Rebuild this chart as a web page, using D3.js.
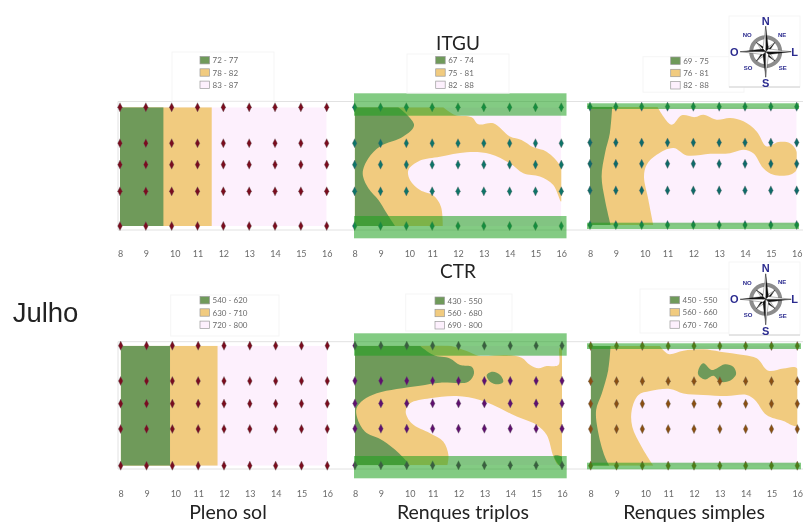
<!DOCTYPE html>
<html>
<head>
<meta charset="utf-8">
<script src="https://cdn.jsdelivr.net/npm/d3@7"></script>
<style>
  html, body { margin: 0; padding: 0; background: #fff; }
  svg { display: block; filter: blur(0.55px); }
</style>
</head>
<body>
<div id="container"></div>
<script>
/* DATA */
// hours of the day, and the position of the sensor rows across the plot (0 = north edge, 100 = south edge)
const hours = [8, 9, 10, 11, 12, 13, 14, 15, 16];
const rowsItgu = [0, 30.3, 48.3, 70.8, 100];
const rowsCtr = [0, 29.4, 48.3, 69.4, 100];

const legendItguSol = ["72 - 77", "78 - 82", "83 - 87"];
const legendItguTriplos = ["67 - 74", "75 - 81", "82 - 88"];
const legendItguSimples = ["69 - 75", "76 - 81", "82 - 88"];
const legendCtrSol = ["540 - 620", "630 - 710", "720 - 800"];
const legendCtrTriplos = ["430 - 550", "560 - 680", "690 - 800"];
const legendCtrSimples = ["450 - 550", "560 - 660", "670 - 760"];

// contour edges as [hour, position]
const itguSolGreen = [[9.68, 0], [9.68, 100]];
const itguSolOrange = [[11.55, 0], [11.55, 100]];
const ctrSolGreen = [[9.91, 0], [9.91, 100]];
const ctrSolOrange = [[11.75, 0], [11.75, 100]];

const itguTriplosOrange = [[11.43, 0], [11.88, 6.5], [12.53, 8.4], [12.79, 14.3], [13.37, 13.5], [14.01, 24.7], [14.46, 27.5],
  [14.92, 33.7], [15.43, 37.4], [16, 51.4], [16, 79.5], [15.69, 65.4], [15.17, 58.4], [14.53, 55.6], [14.01, 47.2], [13.24, 39.3],
  [12.34, 37.9], [11.3, 41.6], [10.53, 44.9], [10.08, 52.8], [10.14, 61.2], [10.53, 69.7], [11.05, 74.4], [11.34, 83.7], [11.41, 100]];
const itguTriplosGreen = [[9.69, 0], [10.3, 14.9], [9.88, 24.7], [8.98, 33.1], [8.53, 43], [8.31, 55.6], [8.53, 68.3], [8.92, 78.1],
  [9.24, 89.3], [9.56, 100]];

const itguSimplesOrange = [[10.61, 0], [11.16, 15.3], [11.55, 7.3], [12.06, 8.8], [12.39, 6.8], [12.9, 11], [13.42, 9.6], [13.94, 12.4],
  [14.45, 20.9], [14.84, 33.6], [15.29, 29.9], [15.74, 30.8], [16, 37.9], [16, 53.4], [15.74, 57.6], [15.1, 57.6], [14.71, 52],
  [14.32, 39.3], [13.94, 36.4], [13.42, 39.3], [12.65, 39.8], [11.74, 41.2], [11.23, 35], [10.58, 40.7], [10.19, 49.2], [10.09, 59],
  [10.26, 78.8], [10.45, 100]];
const itguSimplesGreen = [[8.86, 0], [8.77, 22.3], [8.58, 39.3], [8.45, 59], [8.58, 78.8], [8.8, 100]];

const ctrTriplosOrange = [[10.51, 0], [11.67, 0], [12.32, 4.5], [12.77, 8.4], [13.86, 7.8], [14.44, 10], [14.77, 16.2], [15.09, 18.9],
  [15.41, 17], [15.86, 16.2], [15.9, 2.2], [16, 0], [16, 100], [15.86, 100], [15.67, 92.8], [15.41, 74.7], [15.02, 66.3], [14.25, 59.3],
  [13.48, 51], [12.83, 45.4], [11.93, 42.1], [10.9, 44], [10.13, 48.2], [9.96, 55.2], [10.19, 64.9], [10.9, 73.3], [11.41, 80.2],
  [11.61, 91.4], [11.57, 100]];
const ctrTriplosGreen = [[10.51, 0], [11.03, 7.8], [11.67, 10.6], [12.06, 16.2], [12.51, 17.5], [12.6, 23.1], [12.38, 30.1], [11.29, 30.9],
  [10.51, 33.4], [9.61, 36.2], [8.84, 39.8], [8.32, 45.4], [8.06, 52.4], [8.09, 60.7], [8.39, 71.9], [8.97, 78], [9.48, 85.8], [10, 96.9],
  [10.06, 100]];
const ctrTriplosIsland = [[13.09, 24.5], [13.32, 21.7], [13.61, 24.5], [13.73, 30.1], [13.54, 32.3], [13.22, 30.1]];
const ctrTriplosTail = [[15.7, 92], [16, 93], [16, 100], [15.9, 100]];

const ctrSimplesOrange = [[10.68, 0], [11.01, 6.7], [11.59, 3.9], [12.36, 2.8], [13.01, 4.7], [13.91, 7.5], [14.43, 10.3], [14.88, 20.6],
  [15.46, 18.7], [16, 18.7], [16, 66.6], [15.46, 62.7], [14.81, 57.7], [14.36, 45.1], [14.04, 40.9], [13.26, 41.8], [12.36, 40.9],
  [11.59, 39.6], [11.07, 35.9], [10.3, 37.6], [9.85, 40.9], [9.59, 53.5], [9.61, 67.4], [9.97, 84.1], [10.43, 100]];
const ctrSimplesGreen = [[8.77, 0], [8.68, 20], [8.43, 39.6], [8.21, 53.5], [8.3, 73], [8.55, 92.5], [8.72, 100]];
const ctrSimplesIsland = [[12.36, 14.5], [12.68, 20.1], [12.88, 18.7], [13.2, 15.3], [13.52, 17.3], [13.63, 23.4], [13.39, 29], [13.01, 29.8],
  [12.75, 24.8], [12.43, 27.9], [12.17, 24.2], [12.17, 20]];

/* CONSTANTS AND GLOBALS */
const width = 803, height = 522;
const font = "Lato, 'Open Sans', sans-serif";
const green = "#6f9a5a", orange = "#f1cb7f", pink = "#fdf0fd";
const bandFill = "rgba(30,160,30,0.55)";

// layout of each panel, in pixels
const panels = [
  { x0: 120, x1: 326.7, y0: 107.3, y1: 226, tickY: 257, rows: rowsItgu, dot: "#7a0c1e", legend: legendItguSol,
    box: [172, 52, 102, 49], swatchX: 200, swatchY: 56.5,
    orange: itguSolOrange, green: itguSolGreen },
  { x0: 354.7, x1: 561.3, y0: 107.3, y1: 226, tickY: 257, rows: rowsItgu, dot: "#0e7468", legend: legendItguTriplos,
    box: [407, 54, 102, 39], swatchX: 435.7, swatchY: 56.5,
    orange: itguTriplosOrange, green: itguTriplosGreen,
    band: { x0: 354, x1: 566.5, top: [93.3, 115.7], bottom: [216, 238.3] } },
  { x0: 590, x1: 796.7, y0: 106.7, y1: 225, tickY: 257, rows: rowsItgu, dot: "#0e6a68", legend: legendItguSimples,
    box: [643, 56.7, 101, 35.5], swatchX: 670.7, swatchY: 57,
    orange: itguSimplesOrange, green: itguSimplesGreen,
    band: { x0: 587, x1: 799, top: [103.3, 109], bottom: [222.7, 229] } },
  { x0: 120.7, x1: 327.3, y0: 345.7, y1: 465.7, tickY: 497, rows: rowsCtr, dot: "#7a0c1e", legend: legendCtrSol,
    box: [170.7, 295, 108.3, 41], swatchX: 200, swatchY: 296.5,
    orange: ctrSolOrange, green: ctrSolGreen },
  { x0: 355, x1: 562, y0: 345.7, y1: 465.3, tickY: 497, rows: rowsCtr, dot: "#5f0f6e", legend: legendCtrTriplos,
    box: [405.7, 294, 106.3, 37], swatchX: 435, swatchY: 297,
    orange: ctrTriplosOrange, green: ctrTriplosGreen, islands: [ctrTriplosIsland, ctrTriplosTail],
    band: { x0: 354, x1: 566.7, top: [333.3, 355.7], bottom: [456, 478.3] } },
  { x0: 590.7, x1: 797.3, y0: 346, y1: 465.7, tickY: 497, rows: rowsCtr, dot: "#8a4f12", legend: legendCtrSimples,
    box: [640, 289, 89, 44], swatchX: 670, swatchY: 296.3,
    orange: ctrSimplesOrange, green: ctrSimplesGreen, islands: [ctrSimplesIsland],
    band: { x0: 587, x1: 801, top: [343.3, 349], bottom: [462.7, 469.3] } }
];

const svg = d3.select("#container")
  .append("svg")
  .attr("width", width)
  .attr("height", height);

// faint frame lines that run behind the panels
[[101.5, 230], [341.7, 469]].forEach(([a, b]) => {
  [a, b].forEach(y => svg.append("line")
    .attr("x1", 118).attr("x2", 803).attr("y1", y).attr("y2", y)
    .attr("stroke", "#e2e2e2"));
  svg.append("line")
    .attr("x1", 118).attr("x2", 118).attr("y1", a).attr("y2", b)
    .attr("stroke", "#e2e2e2");
});

panels.forEach((p, i) => {
  const x = d3.scaleLinear().domain([8, 16]).range([p.x0, p.x1]);
  const y = d3.scaleLinear().domain([0, 100]).range([p.y0, p.y1]);
  const g = svg.append("g");

  g.append("clipPath").attr("id", "clip" + i)
    .append("rect")
    .attr("x", x(8)).attr("y", y(0))
    .attr("width", x(16) - x(8)).attr("height", y(100) - y(0));

  const fills = g.append("g").attr("clip-path", `url(#clip${i})`);

  const line = d3.line().x(d => x(d[0])).y(d => y(d[1])).curve(d3.curveCatmullRom.alpha(0.5));
  const closed = d3.line().x(d => x(d[0])).y(d => y(d[1])).curve(d3.curveCatmullRomClosed.alpha(0.5));
  // edge runs from the north side to the south side, then close along the west side
  const region = edge => line(edge) + `L${x(8)},${y(100)}L${x(8)},${y(0)}Z`;

  fills.append("rect")
    .attr("x", x(8)).attr("y", y(0))
    .attr("width", x(16) - x(8)).attr("height", y(100) - y(0))
    .attr("fill", pink);
  fills.append("path").attr("d", region(p.orange)).attr("fill", orange);
  fills.append("path").attr("d", region(p.green)).attr("fill", green);
  fills.selectAll("path.island")
    .data(p.islands || [])
    .join("path")
    .attr("class", "island")
    .attr("d", d => closed(d))
    .attr("fill", green);

  // sensor points
  g.selectAll("path.point")
    .data(d3.cross(hours, p.rows))
    .join("path")
    .attr("class", "point")
    .attr("d", "M0,-4.6L2.3,0L0,4.6L-2.3,0Z")
    .attr("transform", d => `translate(${x(d[0])},${y(d[1])})`)
    .attr("fill", p.dot)
    .attr("stroke", "rgba(110,110,110,0.45)")
    .attr("stroke-width", 0.8);

  // tree rows, drawn over the points so they tint them
  if (p.band) {
    [p.band.top, p.band.bottom].forEach(([a, b]) => {
      g.append("rect")
        .attr("x", p.band.x0).attr("y", a)
        .attr("width", p.band.x1 - p.band.x0).attr("height", b - a)
        .attr("fill", bandFill);
    });
  }

  // hour labels
  const axis = g.append("g")
    .attr("transform", `translate(0,${p.tickY - 6.4})`)
    .call(d3.axisBottom(x).tickValues(hours).tickSize(0).tickFormat(d3.format("d")));
  axis.select(".domain").remove();
  axis.selectAll("text")
    .attr("y", 0).attr("dy", "0.71em")
    .attr("dx", d => d === 10 ? 3 : 0)
    .attr("fill", "#6a6a6a")
    .style("font-family", font)
    .style("font-size", "9px");

  // legend
  const [bx, by, bw, bh] = p.box;
  const legend = g.append("g");
  legend.append("rect")
    .attr("x", bx).attr("y", by).attr("width", bw).attr("height", bh)
    .attr("fill", "#fff").attr("stroke", "#f5f5f5");
  const items = legend.selectAll("g.item")
    .data(p.legend)
    .join("g")
    .attr("class", "item")
    .attr("transform", (d, k) => `translate(${p.swatchX},${p.swatchY + k * 12.3})`);
  items.append("rect")
    .attr("width", 9.5).attr("height", 7.4)
    .attr("fill", (d, k) => [green, orange, pink][k])
    .attr("stroke", "#9a9a9a").attr("stroke-width", 0.7);
  items.append("text")
    .attr("x", 12.5).attr("y", 6.8)
    .attr("fill", "#6a6a6a")
    .style("font-family", font)
    .style("font-size", "8px")
    .text(d => d);
});

// headings
const addText = (str, x, y, size, fam) => svg.append("text")
  .attr("x", x).attr("y", y)
  .attr("text-anchor", "middle")
  .attr("fill", "#222")
  .style("font-family", fam || font)
  .style("font-size", size + "px")
  .text(str);

addText("ITGU", 458, 50, 19);
addText("CTR", 458, 278, 19);
addText("Julho", 45.5, 322, 27.5, "'Liberation Sans', Arial, sans-serif");
addText("Pleno sol", 228, 519, 19.5);
addText("Renques triplos", 463, 519, 19.5);
addText("Renques simples", 694, 519, 19.5);

// compass
function drawCompass(cx, cy, boxTop, boxBottom) {
  const c = svg.append("g");
  c.append("rect")
    .attr("x", 729).attr("y", boxTop).attr("width", 71).attr("height", boxBottom - boxTop)
    .attr("fill", "#fff").attr("stroke", "#f5f5f5");
  c.append("line")
    .attr("x1", 729).attr("x2", 800).attr("y1", boxBottom).attr("y2", boxBottom)
    .attr("stroke", "#d0d0d0");
  c.append("circle")
    .attr("cx", cx).attr("cy", cy).attr("r", 14.5)
    .attr("fill", "none").attr("stroke", "#8c8c8c").attr("stroke-width", 4);

  const star = c.append("g").attr("transform", `translate(${cx},${cy})`);
  const arm = (angle, r, w) => {
    const a = star.append("g").attr("transform", `rotate(${angle})`);
    a.append("path").attr("d", `M0,${-r}L${w},${-w}L0,0Z`).attr("fill", "#111").attr("stroke", "#111").attr("stroke-width", 0.3);
    a.append("path").attr("d", `M0,${-r}L${-w},${-w}L0,0Z`).attr("fill", "#fff").attr("stroke", "#111").attr("stroke-width", 0.3);
  };
  [45, 135, 225, 315].forEach(a => arm(a, 13, 2.2));
  [0, 90, 180, 270].forEach(a => arm(a, 25.5, 2.8));

  const navy = "#2b2b8f";
  [["N", 0, -31, 11], ["S", 0, 31.5, 11], ["O", -31.5, 0, 11], ["L", 29, 0, 11],
   ["NO", -18.5, -16.5, 6], ["NE", 16.5, -17, 6], ["SO", -17.5, 16, 6], ["SE", 17, 16.5, 6]].forEach(([t, dx, dy, s]) => {
    c.append("text")
      .attr("x", cx + dx).attr("y", cy + dy).attr("dy", "0.36em")
      .attr("text-anchor", "middle")
      .attr("fill", navy)
      .style("font-family", "'Liberation Sans', Arial, sans-serif")
      .style("font-weight", "bold")
      .style("font-size", s + "px")
      .text(t);
  });
}
drawCompass(765.7, 51.7, 16, 87);
drawCompass(765.7, 299.3, 262, 335);
</script>
</body>
</html>
